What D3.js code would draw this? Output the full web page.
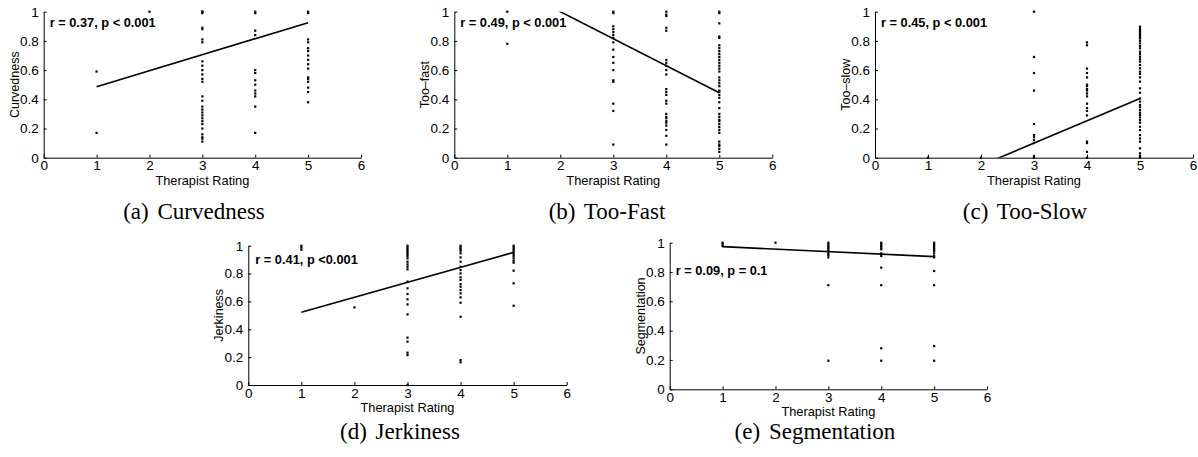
<!DOCTYPE html>
<html>
<head>
<meta charset="utf-8">
<script src="https://cdn.jsdelivr.net/npm/d3@7"></script>
<style>
  body { margin: 0; background: #fff; }
  svg { display: block; }
  .ylab, .xlab { font-family: "Liberation Sans", Arial, sans-serif; fill: #000; }
  .stat { font-family: "Liberation Sans", Arial, sans-serif; font-weight: bold; font-size: 12.8px; }
  .caption { font-family: "Liberation Serif", "Times New Roman", serif; font-size: 23px; word-spacing: 3px; }
</style>
</head>
<body>
<script>
// values per therapist rating (index 0 = rating 1 ... index 4 = rating 5)
const curvedness = [
  [0.59, 0.17],
  [1.0],
  [1.0, 1.0, 0.99, 0.89, 0.88, 0.81, 0.79, 0.66, 0.63, 0.6, 0.57, 0.54, 0.52, 0.42, 0.39, 0.35, 0.33, 0.31, 0.29, 0.27, 0.25, 0.23, 0.2, 0.16, 0.14, 0.13, 0.11],
  [1.0, 0.99, 0.87, 0.84, 0.6, 0.58, 0.53, 0.5, 0.46, 0.44, 0.42, 0.35, 0.17],
  [1.0, 0.99, 0.81, 0.79, 0.75, 0.73, 0.7, 0.67, 0.64, 0.61, 0.55, 0.54, 0.52, 0.48, 0.45, 0.38]
];
const tooFast = [
  [1.0, 0.78],
  [],
  [1.0, 0.99, 0.90, 0.88, 0.86, 0.84, 0.82, 0.79, 0.74, 0.69, 0.65, 0.6, 0.53, 0.52, 0.37, 0.32, 0.09],
  [1.0, 0.98, 0.97, 0.89, 0.87, 0.67, 0.65, 0.63, 0.6, 0.57, 0.47, 0.45, 0.43, 0.39, 0.37, 0.30, 0.28, 0.27, 0.25, 0.24, 0.22, 0.19, 0.15, 0.09],
  [1.0, 0.99, 0.92, 0.83, 0.82, 0.77, 0.75, 0.73, 0.71, 0.69, 0.67, 0.65, 0.63, 0.61, 0.59, 0.55, 0.53, 0.51, 0.49, 0.46, 0.45, 0.43, 0.41, 0.38, 0.34, 0.30, 0.28, 0.26, 0.25, 0.23, 0.21, 0.19, 0.17, 0.11, 0.09, 0.08, 0.06, 0.04]
];
const tooSlow = [
  [0],
  [0],
  [1.0, 0.69, 0.58, 0.46, 0.23, 0.155, 0.14, 0.12, 0.10, 0.01, 0],
  [0.79, 0.77, 0.61, 0.58, 0.55, 0.50, 0.49, 0.47, 0.46, 0.44, 0.42, 0.37, 0.34, 0.32, 0.29, 0.11, 0.10, 0.04, 0],
  [0.897, 0.886, 0.874, 0.863, 0.852, 0.840, 0.829, 0.817, 0.801, 0.783, 0.765, 0.749, 0.726, 0.710, 0.692, 0.674, 0.658, 0.635, 0.612, 0.589, 0.573, 0.550, 0.521, 0.475, 0.445, 0.406, 0.384, 0.361, 0.345, 0.326, 0.308, 0.292, 0.276, 0.258, 0.240, 0.212, 0.189, 0.155, 0.132, 0.110, 0.064, 0.030, 0.011, 0]
];
const jerkiness = [
  [1.0, 0.986, 0.971],
  [0.557],
  [1.0, 0.988, 0.976, 0.964, 0.952, 0.940, 0.926, 0.909, 0.885, 0.866, 0.849, 0.830, 0.742, 0.694, 0.653, 0.615, 0.579, 0.507, 0.340, 0.311, 0.232, 0.215, 0],
  [1.0, 0.988, 0.976, 0.964, 0.945, 0.916, 0.885, 0.849, 0.825, 0.801, 0.773, 0.754, 0.725, 0.706, 0.682, 0.658, 0.629, 0.591, 0.490, 0.179, 0.163],
  [1.0, 0.988, 0.976, 0.964, 0.952, 0.940, 0.926, 0.909, 0.892, 0.878, 0.821, 0.730, 0.569]
];
const segmentation = [
  [1.0, 0.99, 0.977],
  [1.0],
  [1.0, 0.99, 0.977, 0.966, 0.955, 0.943, 0.927, 0.916, 0.9, 0.71, 0.195],
  [1.0, 0.99, 0.977, 0.966, 0.955, 0.927, 0.909, 0.83, 0.71, 0.28, 0.195],
  [1.0, 0.99, 0.977, 0.966, 0.955, 0.943, 0.927, 0.909, 0.9, 0.807, 0.71, 0.295, 0.195]
];

// fitted line: [x0, y0, x1, y1] in data units
const curvednessFit = [1, 0.486, 5, 0.925];
const tooFastFit = [1, 1.185, 5, 0.445];
const tooSlowFit = [1, -0.206, 5, 0.406];
const jerkinessFit = [1, 0.522, 5, 0.952];
const segmentationFit = [1, 0.973, 5, 0.905];

const yLabels = ["Curvedness", "Too\u2013fast", "Too\u2013slow", "Jerkiness", "Segmentation"];
const stats = ["r = 0.37, p < 0.001", "r = 0.49, p < 0.001", "r = 0.45, p < 0.001", "r = 0.41, p <0.001", "r = 0.09, p = 0.1"];
const captions = ["(a) Curvedness", "(b) Too-Fast", "(c) Too-Slow", "(d) Jerkiness", "(e) Segmentation"];
const xTicks = [0, 1, 2, 3, 4, 5, 6];
const yTicks = [0, 0.2, 0.4, 0.6, 0.8, 1];
const xLabel = "Therapist Rating";

// layout of each panel: axes box, stat offset, caption position
const panels = [
  { data: curvedness, fit: curvednessFit, l: 43.7, t: 11.7, w: 317.3, h: 146, sx: 6, sy: 15, cx: 194, cy: 219 },
  { data: tooFast, fit: tooFastFit, l: 454.3, t: 11.7, w: 318, h: 146, sx: 6, sy: 15.5, cx: 607, cy: 219 },
  { data: tooSlow, fit: tooSlowFit, l: 875, t: 11.7, w: 318, h: 146, sx: 6, sy: 15.5, cx: 1025, cy: 219 },
  { data: jerkiness, fit: jerkinessFit, l: 248.3, t: 245.7, w: 318.4, h: 139.3, sx: 7, sy: 18.5, cx: 400, cy: 439 },
  { data: segmentation, fit: segmentationFit, l: 669.7, t: 242.7, w: 317.3, h: 146.6, sx: 6, sy: 32.5, cx: 815, cy: 439 }
];

const svg = d3.select("body")
  .append("svg")
  .attr("width", 1198)
  .attr("height", 457);

const fmtY = d => (d === 0 || d === 1) ? String(d) : d3.format(".1f")(d);

const styleAxis = sel => {
  sel.attr("font-size", 13.5).attr("font-family", "Liberation Sans, Arial, sans-serif");
  sel.selectAll("path, line").attr("stroke", "#000");
  sel.selectAll("text").attr("fill", "#000");
};

panels.forEach((p, i) => {
  const x = d3.scaleLinear().domain([0, 6]).range([p.l, p.l + p.w]);
  const y = d3.scaleLinear().domain([0, 1]).range([p.t + p.h, p.t]);
  const g = svg.append("g");

  g.append("clipPath")
    .attr("id", "clip" + i)
    .append("rect")
    .attr("x", p.l).attr("y", p.t)
    .attr("width", p.w).attr("height", p.h);

  g.append("g")
    .attr("transform", `translate(0, ${p.t + p.h})`)
    .call(d3.axisBottom(x).tickValues(xTicks).tickSize(-3).tickSizeOuter(0).tickPadding(3).tickFormat(d3.format("d")))
    .call(styleAxis);

  g.append("g")
    .attr("transform", `translate(${p.l}, 0)`)
    .call(d3.axisLeft(y).tickValues(yTicks).tickSize(-3).tickSizeOuter(0).tickPadding(5).tickFormat(fmtY))
    .call(styleAxis);

  g.append("text")
    .attr("class", "xlab")
    .attr("x", p.l + p.w / 2)
    .attr("y", p.t + p.h + 27)
    .attr("text-anchor", "middle")
    .attr("font-size", 12.8)
    .text(xLabel);

  g.append("text")
    .attr("class", "ylab")
    .attr("transform", `translate(${p.l - 25}, ${p.t + p.h / 2}) rotate(-90)`)
    .attr("text-anchor", "middle")
    .attr("font-size", 12.5)
    .text(yLabels[i]);

  const pts = [];
  p.data.forEach((vals, k) => vals.forEach(v => pts.push([k + 1, v])));

  g.append("g")
    .selectAll("rect")
    .data(pts)
    .enter()
    .append("rect")
    .attr("x", d => x(d[0]) - 1.1)
    .attr("y", d => y(d[1]) - 1.1)
    .attr("width", 2.2)
    .attr("height", 2.2)
    .attr("fill", "#000");

  g.append("line")
    .attr("clip-path", `url(#clip${i})`)
    .attr("x1", x(p.fit[0])).attr("y1", y(p.fit[1]))
    .attr("x2", x(p.fit[2])).attr("y2", y(p.fit[3]))
    .attr("stroke", "#000")
    .attr("stroke-width", 1.6);

  g.append("text")
    .attr("class", "stat")
    .attr("x", p.l + p.sx)
    .attr("y", p.t + p.sy)
    .text(stats[i]);

  svg.append("text")
    .attr("class", "caption")
    .attr("x", p.cx)
    .attr("y", p.cy)
    .attr("text-anchor", "middle")
    .text(captions[i]);
});
</script>
</body>
</html>
